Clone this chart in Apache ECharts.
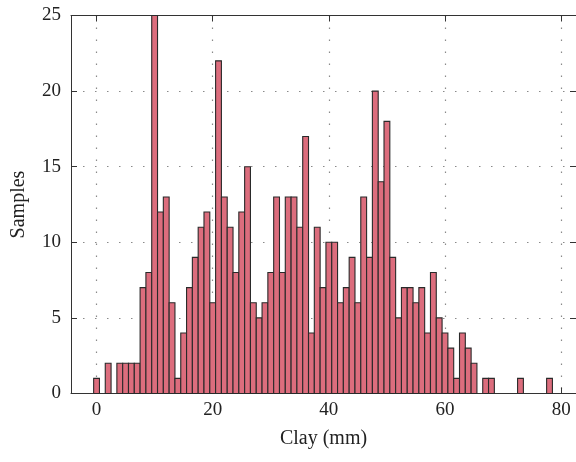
<!DOCTYPE html>
<html>
<head>
<meta charset="utf-8">
<script src="https://cdn.jsdelivr.net/npm/echarts@6/dist/echarts.min.js"></script>
<style>
html,body{margin:0;padding:0;background:#fff;}
#chart{width:576px;height:462px;}
</style>
</head>
<body>
<div id="chart"></div>
<script>
// Histogram bins: bin centres (mm) and sample counts
const binCenters = [0,1,2,3,4,5,6,7,8,9,10,11,12,13,14,15,16,17,18,19,20,21,22,23,24,25,26,27,28,29,30,31,32,33,34,35,36,37,38,39,40,41,42,43,44,45,46,47,48,49,50,51,52,53,54,55,56,57,58,59,60,61,62,63,64,65,66,67,68,69,70,71,72,73,74,75,76,77,78];
const counts = [1,0,2,0,2,2,2,2,7,8,25,12,13,6,1,4,7,9,11,12,6,22,13,11,8,12,15,6,5,6,8,13,8,13,13,11,17,4,11,7,10,10,6,7,9,6,13,9,20,14,18,9,5,7,7,6,7,4,8,5,4,3,1,4,3,2,0,1,1,0,0,0,0,1,0,0,0,0,1];
const binWidth = 1;
const xTicks = [0,20,40,60,80];
const yTicks = [0,5,10,15,20,25];

const data = [];
for (let i = 0; i < binCenters.length; i++) {
  if (counts[i] > 0) data.push([binCenters[i], counts[i]]);
}

const font = 'Liberation Serif';
const frameColor = '#333';
const gridLine = {show: true, lineStyle: {color: '#8a8a8a', width: 1.2, type: [1.5, 10.5]}};

const chart = echarts.init(document.getElementById('chart'));
chart.setOption({
  animation: false,
  backgroundColor: '#fff',
  grid: {left: 71, top: 15.5, width: 507, height: 378},
  xAxis: [{
    type: 'value', position: 'bottom', min: -4.4, max: 82.56,
    name: 'Clay (mm)', nameLocation: 'middle', nameGap: 35,
    nameTextStyle: {fontFamily: font, fontSize: 20, color: '#222'},
    axisLine: {show: true, onZero: false, lineStyle: {color: frameColor, width: 1}},
    axisTick: {show: true, inside: true, length: 6, customValues: xTicks, lineStyle: {color: frameColor}},
    axisLabel: {show: true, customValues: xTicks, fontFamily: font, fontSize: 19, color: '#222', margin: 7},
    splitLine: gridLine
  }, {
    type: 'value', position: 'top', min: -4.4, max: 82.56,
    axisLine: {show: true, onZero: false, lineStyle: {color: frameColor, width: 1}},
    axisTick: {show: true, inside: true, length: 6, customValues: xTicks, lineStyle: {color: frameColor}},
    axisLabel: {show: false},
    splitLine: {show: false}
  }],
  yAxis: [{
    type: 'value', position: 'left', min: 0, max: 25, interval: 5,
    name: 'Samples', nameLocation: 'middle', nameGap: 42, nameRotate: 90,
    nameTextStyle: {fontFamily: font, fontSize: 20, color: '#222'},
    axisLine: {show: true, onZero: false, lineStyle: {color: frameColor, width: 1}},
    axisTick: {show: true, inside: true, length: 6, lineStyle: {color: frameColor}},
    axisLabel: {show: true, fontFamily: font, fontSize: 19, color: '#222', margin: 10,
      formatter: v => yTicks.includes(v) ? String(v) : ''},
    splitLine: gridLine
  }, {
    type: 'value', position: 'right', min: 0, max: 25, interval: 5,
    axisLine: {show: true, onZero: false, lineStyle: {color: frameColor, width: 1}},
    axisTick: {show: true, inside: true, length: 6, lineStyle: {color: frameColor}},
    axisLabel: {show: false},
    splitLine: {show: false}
  }],
  series: [{
    type: 'custom',
    xAxisIndex: 0, yAxisIndex: 0,
    data: data,
    encode: {x: 0, y: 1},
    renderItem: function (params, api) {
      const x = api.value(0), y = api.value(1);
      const p0 = api.coord([x - binWidth / 2, y]);
      const p1 = api.coord([x + binWidth / 2, 0]);
      return {
        type: 'rect',
        shape: {x: p0[0], y: p0[1], width: p1[0] - p0[0], height: p1[1] - p0[1]},
        style: {fill: '#dc6d7d', stroke: '#2a2a2a', lineWidth: 1.1}
      };
    }
  }]
});
</script>
</body>
</html>
